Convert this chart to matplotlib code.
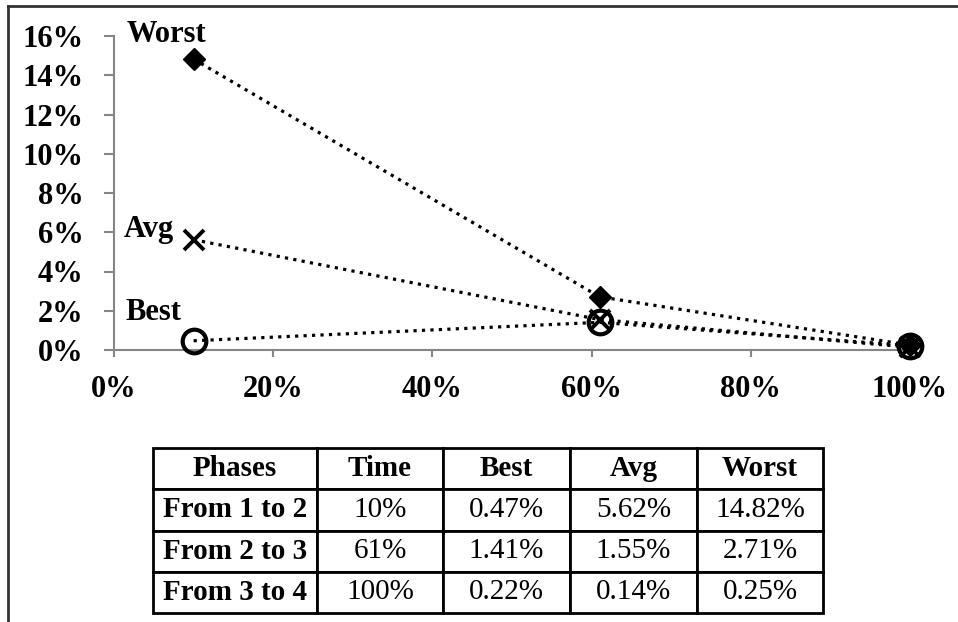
import matplotlib
matplotlib.use("Agg")
import matplotlib.pyplot as plt
from matplotlib.lines import Line2D

plt.rcParams['font.family'] = ['Liberation Serif', 'DejaVu Serif']

# Data
time_pct = [10, 61, 100]
best = [0.47, 1.41, 0.22]
avg = [5.62, 1.55, 0.14]
worst = [14.82, 2.71, 0.25]
phases = ["From 1 to 2", "From 2 to 3", "From 3 to 4"]
col_labels = ["Phases", "Time", "Best", "Avg", "Worst"]
time_txt = ["10%", "61%", "100%"]
best_txt = ["0.47%", "1.41%", "0.22%"]
avg_txt = ["5.62%", "1.55%", "0.14%"]
worst_txt = ["14.82%", "2.71%", "0.25%"]
yticks = [0, 2, 4, 6, 8, 10, 12, 14, 16]
xticks = [0, 20, 40, 60, 80, 100]

W, H = 958, 622
fig = plt.figure(figsize=(W / 100, H / 100), dpi=100)

# figure border (left & top visible)
fig.add_artist(Line2D([8 / W, 8 / W], [0, 1 - 6 / H], color='#333333', lw=2, transform=fig.transFigure))
fig.add_artist(Line2D([8 / W, 1], [1 - 6 / H, 1 - 6 / H], color='#333333', lw=2, transform=fig.transFigure))

ax = fig.add_axes([114 / W, 1 - 350 / H, (910 - 114) / W, (350 - 36) / H])
grey = '#868686'

ax.plot(time_pct, worst, linestyle=':', color='black', lw=2.3, marker='D', ms=11,
        mfc='black', mec='black', zorder=3, clip_on=False)
ax.plot(time_pct, avg, linestyle=':', color='black', lw=2.3, marker='x', ms=15, mew=2.8,
        zorder=3, clip_on=False)
ax.plot(time_pct, best, linestyle=':', color='black', lw=2.3, marker='o', ms=17,
        mfc='none', mec='black', mew=3, zorder=3, clip_on=False)

lab_kw = dict(textcoords='offset points', ha='center', va='center', fontsize=22, fontweight='bold')
ax.annotate("Worst", (time_pct[0], worst[0]), xytext=(-19.5, 17.5), **lab_kw)
ax.annotate("Avg", (time_pct[0], avg[0]), xytext=(-32.5, 7.5), **lab_kw)
ax.annotate("Best", (time_pct[0], best[0]), xytext=(-29, 20), **lab_kw)

ax.set_xlim(0, 100)
ax.set_ylim(0, 16)
ax.set_xticks(xticks)
ax.set_yticks(yticks)
ax.set_xticklabels([f"{v}%" for v in xticks], fontsize=22, fontweight='bold')
ax.set_yticklabels([f"{v}%" for v in yticks], fontsize=22, fontweight='bold')
for s in ['top', 'right']:
    ax.spines[s].set_visible(False)
for s in ['left', 'bottom']:
    ax.spines[s].set_color(grey)
    ax.spines[s].set_linewidth(1.5)
ax.tick_params(axis='y', direction='out', length=7, width=1.5, color=grey, pad=15)
ax.tick_params(axis='x', direction='out', length=5, width=1.5, color=grey, pad=13)
ax.patch.set_visible(False)

# Table
tax = fig.add_axes([153 / W, 1 - 613 / H, (823 - 153) / W, (613 - 448) / H])
tax.axis('off')
cell_text = [[phases[i], time_txt[i], best_txt[i], avg_txt[i], worst_txt[i]] for i in range(3)]
col_w = [164, 126, 127, 127, 126]
tot = sum(col_w)
tbl = tax.table(cellText=cell_text, colLabels=col_labels, cellLoc='center',
                colWidths=[c / tot for c in col_w], bbox=[0, 0, 1, 1])
tbl.auto_set_font_size(False)
for (r, c), cell in tbl.get_celld().items():
    cell.set_linewidth(2)
    cell.set_edgecolor('black')
    t = cell.get_text()
    t.set_fontsize(21)
    if r == 0 or c == 0:
        t.set_fontweight('bold')

fig.savefig("out.png", dpi=100)
